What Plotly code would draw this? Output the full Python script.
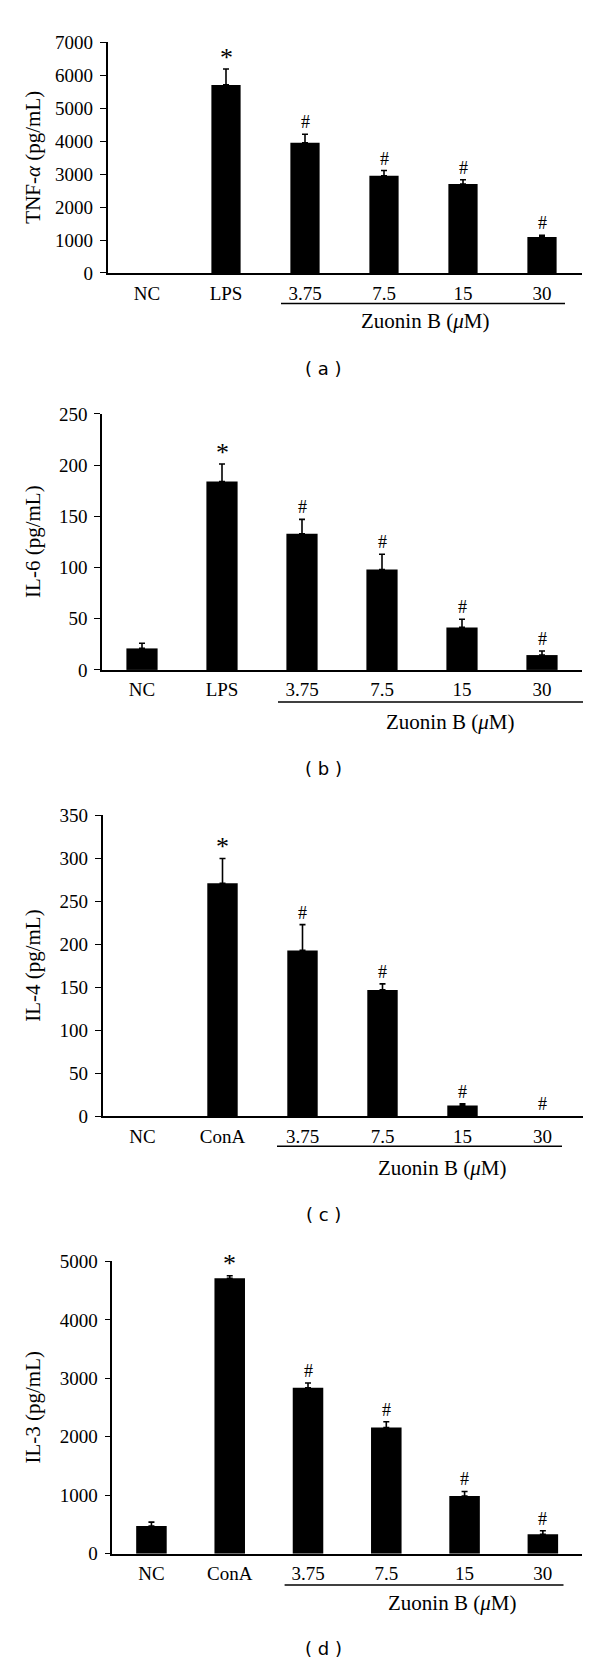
import plotly.graph_objects as go

W, H = 600, 1675

# ---------------- data ----------------
cats_lps = ["NC", "LPS", "3.75", "7.5", "15", "30"]
cats_cona = ["NC", "ConA", "3.75", "7.5", "15", "30"]

tnf_mean = [0, 5710, 3950, 2950, 2700, 1090]
tnf_err = [0, 480, 260, 160, 130, 50]
tnf_sig = ["", "*", "#", "#", "#", "#"]

il6_mean = [21, 184, 133, 98, 41.5, 14.5]
il6_err = [5, 17, 14, 15, 8, 4]
il6_sig = ["", "*", "#", "#", "#", "#"]

il4_mean = [0, 271, 193, 147, 12.6, 0]
il4_err = [0, 29, 30, 7, 2, 0]
il4_sig = ["", "*", "#", "#", "#", "#"]

il3_mean = [473, 4710, 2840, 2157, 985, 332]
il3_err = [67, 45, 80, 100, 80, 60]
il3_sig = ["", "*", "#", "#", "#", "#"]

y_titles = ["TNF-<i>α</i> (pg/mL)", "IL-6 (pg/mL)", "IL-4 (pg/mL)", "IL-3 (pg/mL)"]
y_ranges = [7000, 250, 350, 5000]
y_dticks = [1000, 50, 50, 1000]
panel_labels = ["( a )", "( b )", "( c )", "( d )"]
group_label = "Zuonin B (<i>μ</i>M)"

# ---------------- layout geometry (pixels) ----------------
panels = [
    dict(cats=cats_lps, mean=tnf_mean, err=tnf_err, sig=tnf_sig,
         x0=107.5, x1=581.5, ytop=32.8, ybot=266.3, bw=0.37,
         line=(281, 565, 297.3), glab=(425, 315), plab=(323, 363)),
    dict(cats=cats_lps, mean=il6_mean, err=il6_err, sig=il6_sig,
         x0=102, x1=582, ytop=409, ybot=668.3, bw=0.39,
         line=(278, 583, 700.7), glab=(450, 720.7), plab=(323, 768)),
    dict(cats=cats_cona, mean=il4_mean, err=il4_err, sig=il4_sig,
         x0=102.5, x1=582.5, ytop=815.7, ybot=1120.3, bw=0.38,
         line=(277, 562, 1150.7), glab=(442, 1173), plab=(323, 1220)),
    dict(cats=cats_cona, mean=il3_mean, err=il3_err, sig=il3_sig,
         x0=112.3, x1=582, ytop=1267.3, ybot=1563.3, bw=0.39,
         line=(284.6, 563.5, 1595), glab=(452, 1613), plab=(323, 1659)),
]

SERIF = "Liberation Serif"
SANS = "DejaVu Sans"

fig = go.Figure()
layout = dict(width=W, height=H, margin=dict(l=0, r=0, t=0, b=0),
              paper_bgcolor="white", plot_bgcolor="white", showlegend=False,
              shapes=[], annotations=[])


def px(x):
    return x / W


def py(y):
    return 1 - y / H


for i, p in enumerate(panels):
    n = "" if i == 0 else str(i + 1)
    xa, ya = "x" + n, "y" + n
    # only groups with a non-zero mean get a visible bar / error bar
    keep = [k for k, m in enumerate(p["mean"]) if m > 0]
    fig.add_trace(go.Bar(
        x=[p["cats"][k] for k in keep], y=[p["mean"][k] for k in keep],
        xaxis=xa, yaxis=ya, width=p["bw"],
        marker=dict(color="black", line=dict(width=0)),
        error_y=dict(type="data", symmetric=False,
                     array=[p["err"][k] for k in keep],
                     arrayminus=[0] * len(keep), color="black",
                     thickness=1.6, width=3),
        hoverinfo="skip"))
    layout["xaxis" + n] = dict(
        domain=[px(p["x0"]), px(p["x1"])], anchor=ya, type="category",
        categoryorder="array", categoryarray=p["cats"], range=[-0.5, 5.5],
        tickmode="array", tickvals=p["cats"], ticktext=p["cats"],
        showline=True, linecolor="black", linewidth=1.5, ticks="",
        showgrid=False, zeroline=False, ticklabelstandoff=2,
        tickfont=dict(family=SERIF, size=19, color="black"))
    layout["yaxis" + n] = dict(
        domain=[py(p["ybot"]), py(p["ytop"])], anchor=xa,
        range=[0, y_ranges[i]], dtick=y_dticks[i], tick0=0,
        showline=True, linecolor="black", linewidth=1.5,
        ticks="outside", ticklen=6, tickwidth=1.2, tickcolor="black",
        showgrid=False, zeroline=False, ticklabelstandoff=3,
        tickfont=dict(family=SERIF, size=19, color="black"))
    # significance markers (positioned from the data values)
    for j, (m, e, s) in enumerate(zip(p["mean"], p["err"], p["sig"])):
        if s:
            layout["annotations"].append(dict(
                x=j, y=m + e, xref=xa, yref=ya, text=s, showarrow=False,
                yanchor="middle", yshift=12,
                font=dict(family=SERIF, size=26 if s == "*" else 18,
                          color="black")))
    # group underline
    lx0, lx1, ly = p["line"]
    layout["shapes"].append(dict(type="line", xref="paper", yref="paper",
                                 x0=px(lx0), x1=px(lx1), y0=py(ly), y1=py(ly),
                                 line=dict(color="black", width=1.5)))
    gx, gy = p["glab"]
    layout["annotations"].append(dict(
        x=px(gx), y=py(gy), xref="paper", yref="paper", text=group_label,
        showarrow=False, xanchor="center", yanchor="middle",
        font=dict(family=SERIF, size=21, color="black")))
    # y title
    layout["annotations"].append(dict(
        x=px(33), y=py((p["ytop"] + p["ybot"]) / 2), xref="paper", yref="paper",
        text=y_titles[i], textangle=-90, showarrow=False,
        xanchor="center", yanchor="middle",
        font=dict(family=SERIF, size=21, color="black")))
    # panel label
    lx, lyy = p["plab"]
    layout["annotations"].append(dict(
        x=px(lx), y=py(lyy), xref="paper", yref="paper", text=panel_labels[i],
        showarrow=False, xanchor="center", yanchor="middle",
        font=dict(family=SANS, size=18, color="black")))

fig.update_layout(**layout)
fig.write_html("out.html", config={"displayModeBar": False},
               post_script="document.body.style.margin='0';"
                           "document.body.style.padding='0';")
